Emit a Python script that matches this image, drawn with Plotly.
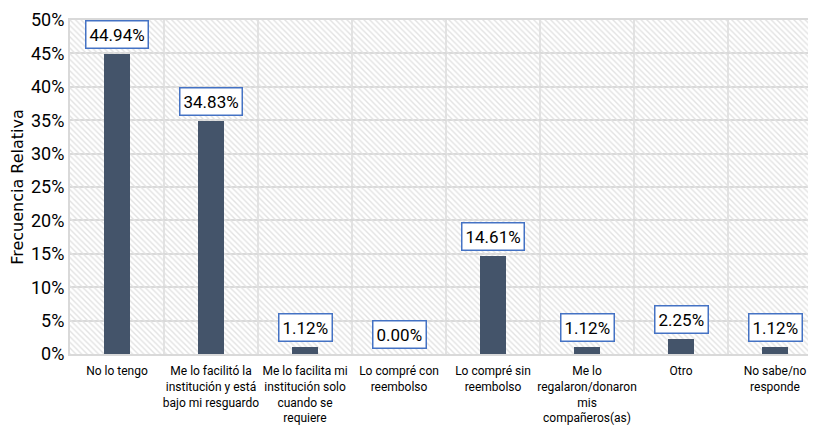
import plotly.graph_objects as go

# Datos
categorias = [
    "No lo tengo",
    "Me lo facilitó la<br>institución y está<br>bajo mi resguardo",
    "Me lo facilita mi<br>institución solo<br>cuando se<br>requiere",
    "Lo compré con<br>reembolso",
    "Lo compré sin<br>reembolso",
    "Me lo<br>regalaron/donaron<br>mis<br>compañeros(as)",
    "Otro",
    "No sabe/no<br>responde",
]
frecuencia = [0.4494, 0.3483, 0.0112, 0.0000, 0.1461, 0.0112, 0.0225, 0.0112]
etiquetas = ["44.94%", "34.83%", "1.12%", "0.00%", "14.61%", "1.12%", "2.25%", "1.12%"]
fondo = [0.5] * len(categorias)

fuente = "Roboto, Liberation Sans, sans-serif"

fig = go.Figure()

# fondo rayado del área de trazado
fig.add_trace(go.Bar(
    x=categorias, y=fondo, width=1,
    marker=dict(color="rgba(0,0,0,0)", line_width=0,
                pattern=dict(shape="\\", fgcolor="#e2e2e2", bgcolor="rgba(0,0,0,0)",
                             size=4, solidity=0.35, fillmode="replace")),
    hoverinfo="skip", showlegend=False,
))

fig.add_trace(go.Bar(
    x=categorias, y=frecuencia, width=0.28,
    marker=dict(color="#44546A", line_width=0),
    showlegend=False,
))

for c, v, t in zip(categorias, frecuencia, etiquetas):
    fig.add_annotation(
        x=c, y=v, text=t, showarrow=False, yanchor="bottom", yshift=5,
        font=dict(family=fuente, size=17, color="#000000"),
        bgcolor="white", bordercolor="#4472C4", borderwidth=1.5, borderpad=3,
    )

# la página añade 8 px de margen al cuerpo; se compensa aquí
fig.update_layout(
    width=816, height=433,
    margin=dict(l=62, r=2, t=12, b=87, autoexpand=False),
    paper_bgcolor="white", plot_bgcolor="white",
    barmode="overlay", bargap=0,
    font=dict(family=fuente, color="#000000"),
)

fig.update_xaxes(
    type="category", range=[-0.5, 7.5], tickangle=0,
    showgrid=False, showline=True, linecolor="#d9d9d9", linewidth=2, mirror=True,
    ticks="", ticklabelstandoff=5, tickfont=dict(size=12, family=fuente),
)
# líneas verticales entre categorías
for i in range(1, 8):
    fig.add_vline(x=i - 0.5, line=dict(color="#d9d9d9", width=1.5), layer="below")

fig.update_yaxes(
    range=[0, 0.5], dtick=0.05, tickformat=".0%",
    showgrid=True, gridcolor="#d9d9d9", gridwidth=2,
    showline=True, linecolor="#d9d9d9", linewidth=2, mirror=True,
    tickfont=dict(size=18, family=fuente),
    title=dict(text="Frecuencia Relativa", font=dict(size=16, family="DejaVu Sans, Liberation Sans, sans-serif"), standoff=4),
    zeroline=False,
)

fig.write_html("out.html")
